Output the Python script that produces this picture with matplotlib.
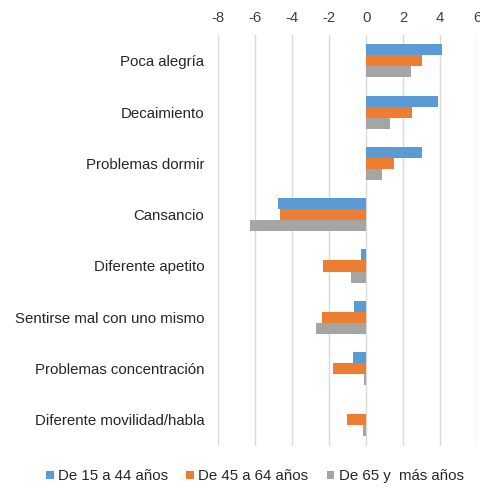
import numpy as np
import matplotlib.pyplot as plt

plt.rcParams['font.family'] = ['Liberation Sans', 'DejaVu Sans']
plt.rcParams['axes.unicode_minus'] = False

categories = [
    'Poca alegría',
    'Decaimiento',
    'Problemas dormir',
    'Cansancio',
    'Diferente apetito',
    'Sentirse mal con uno mismo',
    'Problemas concentración',
    'Diferente movilidad/habla',
]
series_names = ['De 15 a 44 años', 'De 45 a 64 años', 'De 65 y  más años']
young = [4.1, 3.9, 3.0, -4.8, -0.3, -0.65, -0.72, 0.0]
middle = [3.0, 2.5, 1.5, -4.67, -2.35, -2.4, -1.8, -1.06]
old = [2.4, 1.3, 0.84, -6.27, -0.85, -2.7, -0.12, -0.17]
colors = ['#5B9BD5', '#ED7D31', '#A5A5A5']

fig = plt.figure(figsize=(4.81, 4.88), dpi=100)
ax = fig.add_axes([0.454, 0.087, 0.538, 0.841])

# three bars per category, first series on top
y = np.arange(len(categories))
h = 0.215
for k, vals in enumerate([young, middle, old]):
    ax.barh(y + (k - 1) * h, vals, height=h, color=colors[k],
            label=series_names[k], zorder=3)

ax.set_xlim(-8, 6)
ax.set_xticks(np.arange(-8, 7, 2))
ax.set_ylim(len(categories) - 0.5, -0.5)
ax.set_yticks(y)
ax.set_yticklabels(categories, fontsize=10.8, color='#262626')
ax.xaxis.tick_top()
ax.tick_params(axis='x', labelsize=10.8, labelcolor='#404040', length=0, pad=7)
ax.tick_params(axis='y', length=0, pad=10)
ax.grid(axis='x', color='#D9D9D9', linewidth=1, zorder=0)
for s in ax.spines.values():
    s.set_visible(False)

fig.legend(loc='center', bbox_to_anchor=(0.53, 0.024), ncol=3,
           frameon=False, fontsize=10.8, handlelength=0.5, handleheight=0.5,
           handletextpad=0.3, columnspacing=1.2, labelcolor='#262626')

fig.savefig('out.png', dpi=100)
